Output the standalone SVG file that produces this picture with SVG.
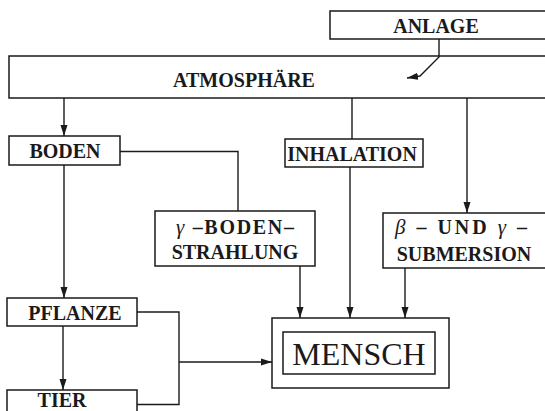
<svg xmlns="http://www.w3.org/2000/svg" width="545" height="411" viewBox="0 0 545 411">
<defs>
<marker id="ah" markerUnits="userSpaceOnUse" markerWidth="12" markerHeight="8" refX="11" refY="4" orient="auto">
<path d="M0,0.5 L11,4 L0,7.5 Z" fill="#1a1a1a"/>
</marker>
</defs>
<style>
rect{fill:none;stroke:#1a1a1a;stroke-width:1.5}
.c{fill:none;stroke:#1a1a1a;stroke-width:1.4}
.a{marker-end:url(#ah)}
text{font-family:"Liberation Serif","DejaVu Serif",serif;font-size:20px;font-weight:bold;fill:#1a1a1a;text-anchor:middle}
.g{font-style:italic;font-weight:normal;font-size:21px}
.big{font-size:32px;font-weight:normal}
</style>
<rect width="545" height="411" style="fill:#fff;stroke:none"/>
<g id="anlage"><rect x="330" y="11" width="230" height="28"/><text x="436" y="33">ANLAGE</text></g>
<g id="atmosphaere"><rect x="9" y="56" width="560" height="42"/><text x="244" y="87">ATMOSPHÄRE</text></g>
<g id="boden"><rect x="9" y="136" width="111" height="29"/><text x="65" y="158">BODEN</text></g>
<g id="inhalation"><rect x="285" y="139" width="138" height="28"/><text x="352" y="161">INHALATION</text></g>
<g id="gamma-boden"><rect x="155" y="211" width="160" height="55"/><text x="235" y="234" textLength="118" lengthAdjust="spacing"><tspan class="g">γ</tspan> –BODEN–</text><text x="235" y="259">STRAHLUNG</text></g>
<g id="submersion"><rect x="383" y="213" width="180" height="55"/><text x="461" y="234" textLength="132" lengthAdjust="spacing"><tspan class="g">β</tspan> – UND <tspan class="g">γ</tspan> –</text><text x="464" y="261">SUBMERSION</text></g>
<g id="pflanze"><rect x="7" y="298" width="130" height="28"/><text x="75" y="320">PFLANZE</text></g>
<g id="tier"><rect x="7" y="390" width="130" height="30"/><text x="62" y="407">TIER</text></g>
<g id="mensch"><rect x="272" y="318" width="177" height="70"/><rect x="283" y="332" width="152" height="42"/><text class="big" x="359" y="365">MENSCH</text></g>
<g id="connectors">
<path class="c a" d="M439,39 L439,57 L420,76 L407,78"/>
<path class="c a" d="M64,98 V136"/>
<path class="c" d="M352,98 V139"/>
<path class="c a" d="M467,98 V213"/>
<path class="c" d="M120,151.5 H238 V211"/>
<path class="c a" d="M64,165 V298"/>
<path class="c a" d="M63,326 V390"/>
<path class="c" d="M137,312 H179 V404.5 H137"/>
<path class="c a" d="M179,362 H272"/>
<path class="c a" d="M300,266 V318"/>
<path class="c a" d="M350,167 V318"/>
<path class="c a" d="M405,268 V318"/>
</g>
</svg>
